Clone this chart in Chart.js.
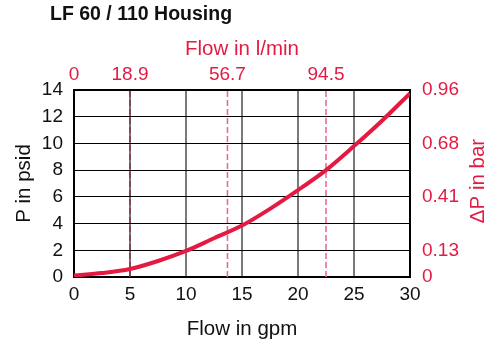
<!DOCTYPE html>
<html>
<head>
<meta charset="utf-8">
<script src="https://cdn.jsdelivr.net/npm/chart.js@4"></script>
<style>
  body { margin: 0; background: #fff; }
  #wrap { position: relative; width: 491px; height: 344px; }
  #title { position: absolute; left: 50px; top: 2px; font: bold 19.5px "Liberation Sans", Arial, sans-serif; color: #111; }
</style>
</head>
<body>
<div id="wrap">
  <div id="title">LF 60 / 110 Housing</div>
  <canvas id="chart" width="491" height="344"></canvas>
</div>
<script>
// curve: flow (gpm) vs pressure drop (psid)
var flowGpm = [0, 2.5, 5, 7.5, 10, 12.5, 15, 17.5, 20, 22.5, 25, 27.5, 30];
var psid = [0.12, 0.3, 0.6, 1.2, 1.95, 2.9, 3.85, 5.1, 6.5, 8.0, 9.8, 11.7, 13.75];

// top axis (l/min) labels and where they sit in gpm
var lminPos = [0, 5, 13.7, 22.5];
var lminLabels = ['0', '18.9', '56.7', '94.5'];

// right axis (bar) labels and where they sit in psid
var barPos = [0, 2, 6, 10, 14];
var barLabels = ['0', '0.13', '0.41', '0.68', '0.96'];

var red = '#e31b43';
var font = "'Liberation Sans', Arial, sans-serif";
Chart.defaults.font.family = font;
Chart.defaults.font.size = 19;
Chart.defaults.color = '#111';
var titleFont = { size: 20.5 };

var curve = flowGpm.map(function (x, i) { return { x: x, y: psid[i] }; });
function vline(x) { return [{ x: x, y: 0 }, { x: x, y: 14 }]; }

var rightTitle = {
  id: 'rightTitle',
  afterDraw: function (chart) {
    var c = chart.ctx;
    c.save();
    c.translate(478, 181);
    c.rotate(-Math.PI / 2);
    c.font = '20.5px ' + font;
    c.fillStyle = red;
    c.textAlign = 'center';
    c.textBaseline = 'middle';
    c.fillText('ΔP in bar', 0, 0);
    c.restore();
  }
};

new Chart(document.getElementById('chart'), {
  type: 'line',
  data: {
    datasets: [{
      data: curve,
      borderColor: red,
      borderWidth: 4,
      pointRadius: 0,
      cubicInterpolationMode: 'monotone'
    }, {
      data: vline(lminPos[1]),
      borderColor: '#8a3444',
      borderWidth: 1.5,
      borderDash: [6, 3],
      pointRadius: 0
    }, {
      data: vline(lminPos[2]),
      borderColor: '#f06486',
      borderWidth: 1.5,
      borderDash: [6, 3],
      pointRadius: 0
    }, {
      data: vline(lminPos[3]),
      borderColor: '#f06486',
      borderWidth: 1.5,
      borderDash: [6, 3],
      pointRadius: 0
    }]
  },
  options: {
    responsive: false,
    animation: false,
    layout: { padding: 0 },
    plugins: { legend: { display: false }, tooltip: { enabled: false } },
    scales: {
      x: {
        type: 'linear', position: 'bottom', min: 0, max: 30,
        afterFit: function (s) { s.height = 67; },
        ticks: { stepSize: 5, padding: 6, color: '#111' },
        grid: {
          drawTicks: false, lineWidth: 2,
          color: function (c) { return (c.tick.value === 0 || c.tick.value === 30) ? '#000' : '#7a7a7a'; }
        },
        border: { color: '#000', width: 2 },
        title: { display: true, text: 'Flow in gpm', color: '#111', font: titleFont, padding: { top: 0, bottom: 2 } }
      },
      x2: {
        type: 'linear', position: 'top', min: 0, max: 30,
        afterFit: function (s) { s.height = 90; },
        afterBuildTicks: function (s) { s.ticks = lminPos.map(function (v) { return { value: v }; }); },
        ticks: {
          color: red, padding: 4, maxRotation: 0, autoSkip: false,
          callback: function (v, i) { return lminLabels[i]; }
        },
        grid: { display: false, drawTicks: false },
        border: { color: '#000', width: 2 },
        title: { display: true, text: 'Flow in l/min', color: red, font: titleFont, padding: { top: 37, bottom: 0 } }
      },
      y: {
        type: 'linear', position: 'left', min: 0, max: 14,
        afterFit: function (s) { s.width = 74; },
        ticks: { stepSize: 2, padding: 11, color: '#111' },
        grid: { drawTicks: false, lineWidth: 1, color: '#000' },
        border: { color: '#000', width: 2 },
        title: { display: true, text: 'P in psid', color: '#111', font: titleFont, padding: { top: 12, bottom: 0 } }
      },
      y2: {
        type: 'linear', position: 'right', min: 0, max: 14,
        afterFit: function (s) { s.width = 81; },
        afterBuildTicks: function (s) { s.ticks = barPos.map(function (v) { return { value: v }; }); },
        ticks: {
          color: red, padding: 12, autoSkip: false,
          callback: function (v, i) { return barLabels[i]; }
        },
        grid: { display: false, drawTicks: false },
        border: { color: '#000', width: 2 }
      }
    }
  },
  plugins: [rightTitle]
});
</script>
</body>
</html>
